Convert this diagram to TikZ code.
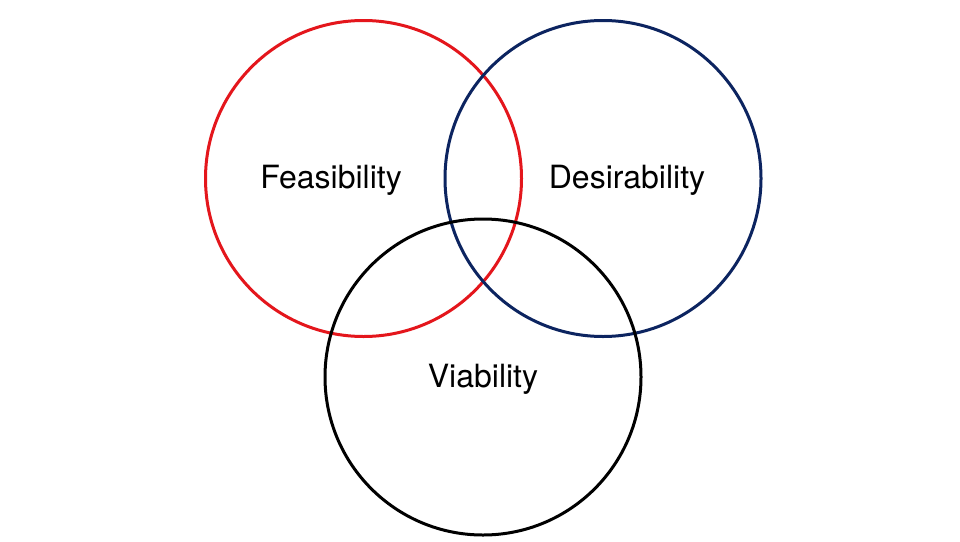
\documentclass[tikz,border=0pt]{standalone}
\usepackage{fontspec}
\setmainfont{TeX Gyre Heros}
\definecolor{fred}{RGB}{228,22,28}
\definecolor{dnavy}{RGB}{12,36,96}
\begin{document}
\begin{tikzpicture}[x=1pt,y=-1pt,
  ring/.style={draw=#1,line width=3pt,circle,minimum size=316pt,inner sep=0pt},
  lbl/.style={anchor=base,font=\fontsize{32}{38}\selectfont,inner sep=0pt}]
\useasboundingbox[fill=white] (0,0) rectangle (960,541);
\node[ring=fred] (feas) at (363.5,178.5) {};
\node[ring=dnavy] (desi) at (603,178.5) {};
\node[ring=black] (viab) at (483,377) {};
\node[lbl] (tfeas) at (331,188) {Feasibility};
\node[lbl] (tdesi) at (627,188) {Desirability};
\node[lbl] (tviab) at (483,387) {Viability};
\end{tikzpicture}
\end{document}
